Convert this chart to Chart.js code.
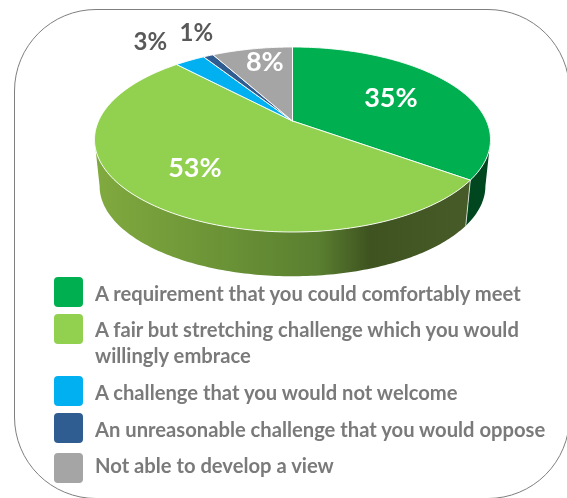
<!DOCTYPE html>
<html>
<head>
<meta charset="utf-8">
<script src="https://cdn.jsdelivr.net/npm/chart.js@4"></script>
<style>
  html, body { margin: 0; padding: 0; background: #fff; overflow: hidden; }
  #page { position: relative; width: 567px; height: 498px; overflow: hidden; font-family: Lato, sans-serif; }
  #frame { position: absolute; left: 14px; top: 9px; width: 556px; height: 490px; box-sizing: border-box;
           border: 1.5px solid #7f7f7f; border-radius: 82px; }
  canvas { position: absolute; left: 0; top: 0; }
  .key { position: absolute; left: 54px; width: 29px; height: 30px; border-radius: 4px; }
  .label { position: absolute; left: 95px; white-space: pre-line; color: #7a7a7a; font-weight: 700; font-size: 20.2px; line-height: 26px; }
</style>
</head>
<body>
<div id="page">
  <div id="frame"></div>
  <canvas id="pie" width="567" height="498"></canvas>
  <div id="legend"></div>
</div>
<script>
const categories = [
  "A requirement that you could comfortably meet",
  "A fair but stretching challenge which you would\nwillingly embrace",
  "A challenge that you would not welcome",
  "An unreasonable challenge that you would oppose",
  "Not able to develop a view"
];
const shares = [35, 53, 3, 1, 8];
const sliceColors = ["#00b050", "#92d050", "#00b0f0", "#2f5d92", "#a5a5a5"];
const legendTops = [277, 314, 376, 413, 453];
const legendTextTops = [280, 316, 379, 416, 452];

// perspective of the disc: unit circle -> screen
const disc = { cx: 292.5, cy: 121, rx: 194, ry: 88.8, persp: 0.2 };
const base = { cx: 292.5, cy: 168, rx: 189, ry: 86.6, persp: 0.2 };

// where each percentage sits: radius on the disc plus a nudge in pixels
const labelSpots = [
  { r: 0.6, dx: 0, dy: 0, color: "#fff", font: "700 27px Lato" },
  { r: 0.67, dx: -2, dy: -2, color: "#fff", font: "700 27px Lato" },
  { r: 1.25, dx: -18, dy: -5, color: "#595959", font: "700 24px Lato" },
  { r: 1.2, dx: 2, dy: -12, color: "#595959", font: "700 24px Lato" },
  { r: 0.78, dx: 5, dy: 0, color: "#fff", font: "700 27px Lato" }
];

function project(p, angle, r = 1) {
  const u = Math.cos(angle) * r, v = Math.sin(angle) * r;
  const w = 1 - p.persp * v;
  return { x: p.cx + p.rx * u / w, y: p.cy + p.ry * v / w };
}

function wallPaint(ctx, index) {
  if (index === 0) return "#00471f";
  const g = ctx.createLinearGradient(98, 0, 466, 0);
  g.addColorStop(0, "#80a93f");
  g.addColorStop(0.35, "#6a9236");
  g.addColorStop(0.6, "#5a7f30");
  g.addColorStop(0.74, "#3e5320");
  g.addColorStop(1, "#475b29");
  return g;
}

// only the front of the rim is visible, between the two silhouette points
const wallFrom = Math.asin(disc.persp);
const wallTo = Math.PI - wallFrom;

const tiltedPie = {
  id: "tiltedPie",
  beforeDatasetsDraw(chart) {
    const ctx = chart.ctx;
    const arcs = chart.getDatasetMeta(0).data;
    ctx.save();
    ctx.lineJoin = "round";

    arcs.forEach((arc, i) => {
      const from = Math.max(arc.startAngle, wallFrom);
      const to = Math.min(arc.endAngle, wallTo);
      if (to <= from) return;
      const steps = Math.ceil((to - from) * 60);
      ctx.beginPath();
      for (let s = 0; s <= steps; s++) {
        const pt = project(disc, from + (to - from) * s / steps);
        s ? ctx.lineTo(pt.x, pt.y) : ctx.moveTo(pt.x, pt.y);
      }
      for (let s = steps; s >= 0; s--) {
        const pt = project(base, from + (to - from) * s / steps);
        ctx.lineTo(pt.x, pt.y);
      }
      ctx.closePath();
      ctx.fillStyle = wallPaint(ctx, i);
      ctx.fill();
    });

    // light seam where the two visible wall pieces meet
    const seam = arcs[0].endAngle;
    const a = project(disc, seam), b = project(base, seam);
    ctx.beginPath();
    ctx.moveTo(a.x, a.y);
    ctx.lineTo(b.x, b.y);
    ctx.strokeStyle = "rgba(255,255,255,0.7)";
    ctx.lineWidth = 1;
    ctx.stroke();

    arcs.forEach((arc, i) => {
      const steps = Math.ceil((arc.endAngle - arc.startAngle) * 60);
      const apex = project(disc, 0, 0);
      ctx.beginPath();
      ctx.moveTo(apex.x, apex.y);
      for (let s = 0; s <= steps; s++) {
        const pt = project(disc, arc.startAngle + (arc.endAngle - arc.startAngle) * s / steps);
        ctx.lineTo(pt.x, pt.y);
      }
      ctx.closePath();
      ctx.fillStyle = sliceColors[i];
      ctx.fill();
      ctx.strokeStyle = "rgba(255,255,255,0.9)";
      ctx.lineWidth = 1;
      ctx.stroke();
    });

    ctx.textAlign = "center";
    ctx.textBaseline = "middle";
    arcs.forEach((arc, i) => {
      const spot = labelSpots[i];
      const pt = project(disc, (arc.startAngle + arc.endAngle) / 2, spot.r);
      ctx.font = spot.font;
      ctx.fillStyle = spot.color;
      ctx.fillText(shares[i] + "%", pt.x + spot.dx, pt.y + spot.dy);
    });

    ctx.restore();
    return false;
  }
};

new Chart(document.getElementById("pie"), {
  type: "pie",
  data: {
    labels: categories,
    datasets: [{ data: shares, backgroundColor: sliceColors }]
  },
  options: {
    responsive: false,
    animation: false,
    events: [],
    plugins: { legend: { display: false }, tooltip: { enabled: false } }
  },
  plugins: [tiltedPie]
});

// legend
const legend = document.getElementById("legend");
categories.forEach((name, i) => {
  const key = document.createElement("div");
  key.className = "key";
  key.style.top = legendTops[i] + "px";
  key.style.background = sliceColors[i];
  legend.appendChild(key);

  const text = document.createElement("div");
  text.className = "label";
  text.style.top = legendTextTops[i] + "px";
  text.textContent = name;
  legend.appendChild(text);
});
</script>
</body>
</html>
